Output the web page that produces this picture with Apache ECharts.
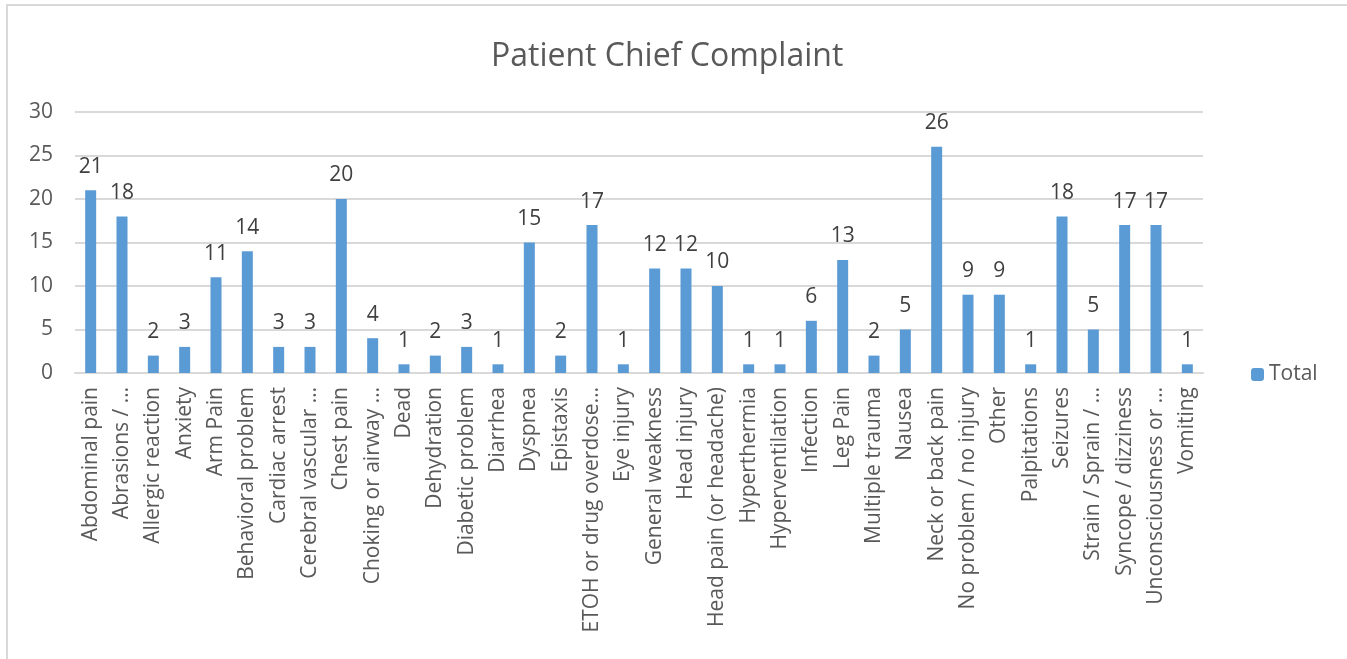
<!DOCTYPE html>
<html>
<head>
<meta charset="utf-8">
<script src="https://cdn.jsdelivr.net/npm/echarts@6/dist/echarts.min.js"></script>
<style>
  html, body { margin: 0; padding: 0; background: #fff; }
  #chart { width: 1347px; height: 659px; }
</style>
</head>
<body>
<div id="chart"></div>
<script>
// complaint categories (labels as truncated in the source chart)
var categories = [
    'Abdominal pain', 'Abrasions / \u2026', 'Allergic reaction', 'Anxiety', 'Arm Pain',
    'Behavioral problem', 'Cardiac arrest', 'Cerebral vascular \u2026', 'Chest pain',
    'Choking or airway \u2026', 'Dead', 'Dehydration', 'Diabetic problem', 'Diarrhea',
    'Dyspnea', 'Epistaxis', 'ETOH or drug overdose\u2026', 'Eye injury', 'General weakness',
    'Head injury', 'Head pain (or headache)', 'Hyperthermia', 'Hyperventilation',
    'Infection', 'Leg Pain', 'Multiple trauma', 'Nausea', 'Neck or back pain',
    'No problem / no injury', 'Other', 'Palpitations', 'Seizures', 'Strain / Sprain / \u2026',
    'Syncope / dizziness', 'Unconsciousness or \u2026', 'Vomiting'
];
var totals = [21, 18, 2, 3, 11, 14, 3, 3, 20, 4, 1, 2, 3, 1, 15, 2, 17, 1, 12, 12, 10,
    1, 1, 6, 13, 2, 5, 26, 9, 9, 1, 18, 5, 17, 17, 1];
var yTicks = [0, 5, 10, 15, 20, 25, 30];

var font = 'Open Sans';
var grey = '#595959';

var chart = echarts.init(document.getElementById('chart'));
var option = {
    backgroundColor: '#ffffff',
    animation: false,
    title: {
        text: 'Patient Chief Complaint',
        left: 486,
        top: 36,
        textStyle: { fontFamily: font, fontSize: 32, fontWeight: 'normal', color: grey }
    },
    legend: {
        data: ['Total'],
        orient: 'vertical',
        left: 1246,
        top: 359,
        itemWidth: 13,
        itemHeight: 13,
        itemGap: 6,
        textStyle: { fontFamily: font, fontSize: 21, color: grey }
    },
    grid: { left: 75, right: 144, top: 112, height: 261, containLabel: false },
    xAxis: {
        type: 'category',
        data: categories,
        axisLine: { lineStyle: { color: '#d9d9d9', width: 2 } },
        axisTick: { show: false },
        axisLabel: {
            interval: 0,
            rotate: 90,
            margin: 14,
            fontFamily: font,
            fontSize: 21,
            color: grey
        }
    },
    yAxis: {
        type: 'value',
        min: yTicks[0],
        max: yTicks[yTicks.length - 1],
        interval: 5,
        axisLine: { show: false },
        axisTick: { show: false },
        axisLabel: { fontFamily: font, fontSize: 21, color: grey, margin: 22 },
        splitLine: { lineStyle: { color: '#d9d9d9', width: 2 } }
    },
    series: [{
        name: 'Total',
        type: 'bar',
        data: totals,
        barWidth: 11,
        itemStyle: { color: '#5b9bd5' },
        label: {
            show: true,
            position: 'top',
            distance: 13,
            fontFamily: font,
            fontSize: 21,
            color: '#404040'
        }
    }],
    graphic: [{
        type: 'polyline',
        shape: { points: [[7, 659], [7, 5], [1347, 5]] },
        style: { stroke: '#d9d9d9', lineWidth: 2, fill: null }
    }]
};
chart.setOption(option);
</script>
</body>
</html>
